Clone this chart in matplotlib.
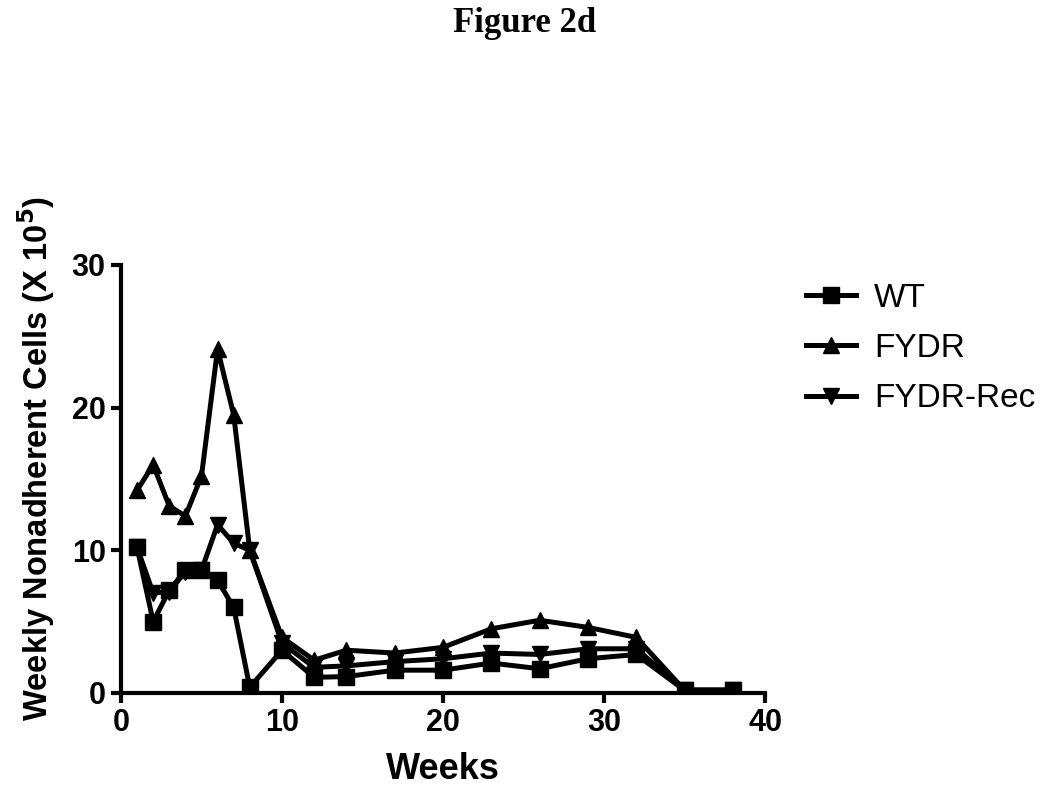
import matplotlib
matplotlib.use("Agg")
import matplotlib.pyplot as plt
from matplotlib.lines import Line2D

weeks = [1, 2, 3, 4, 5, 6, 7, 8, 10, 12, 14, 17, 20, 23, 26, 29, 32, 35, 38]
wt = [10.2, 5.0, 7.2, 8.6, 8.6, 7.9, 6.0, 0.4, 3.0, 1.1, 1.15, 1.6, 1.6, 2.1, 1.7, 2.4, 2.7, 0.2, 0.2]
fydr = [14.2, 16.0, 13.1, 12.4, 15.2, 24.1, 19.5, 10.0, 3.9, 2.3, 3.0, 2.8, 3.2, 4.5, 5.1, 4.6, 3.9, 0.2, 0.2]
fydr_rec = [10.2, 7.0, 7.1, 8.5, 8.6, 11.8, 10.5, 10.0, 3.5, 1.8, 1.9, 2.2, 2.4, 2.8, 2.7, 3.1, 3.1, 0.2, 0.2]

series_labels = ["WT", "FYDR", "FYDR-Rec"]
x_ticks = [0, 10, 20, 30, 40]
y_ticks = [0, 10, 20, 30]

sans = ['Liberation Sans', 'DejaVu Sans']

fig = plt.figure(figsize=(10.5, 8), dpi=100)
ax = fig.add_axes([0.1152, 0.13375, 0.6134, 0.535])

lw = 3.6
ax.plot(weeks, fydr, color='black', lw=lw, marker='^', ms=12, zorder=3)
ax.plot(weeks, fydr_rec, color='black', lw=lw, marker='v', ms=12, zorder=4)
ax.plot(weeks, wt, color='black', lw=lw, marker='s', ms=12, zorder=5)

ax.set_xlim(0, 40)
ax.set_ylim(0, 30)
ax.set_xticks(x_ticks)
ax.set_yticks(y_ticks)
for s in ['top', 'right']:
    ax.spines[s].set_visible(False)
for s in ['left', 'bottom']:
    ax.spines[s].set_linewidth(3)
ax.tick_params(width=3, length=7, direction='out', pad=4)
for lab in ax.get_xticklabels() + ax.get_yticklabels():
    lab.set_family(sans)
    lab.set_fontweight('bold')
    lab.set_fontsize(22)

ax.set_xlabel("Weeks", family=sans, fontweight='bold', fontsize=26, labelpad=10)
ax.set_ylabel("Weekly Nonadherent Cells (X 10$^{\\mathbf{5}}$)", family=sans,
              fontweight='bold', fontsize=23.5, labelpad=7)
ax.yaxis.set_label_coords(-0.1, 0.547)

handles = [Line2D([], [], color='black', lw=lw, marker=m, ms=12) for m in ['s', '^', 'v']]
leg = fig.legend(handles, series_labels, loc='upper left', bbox_to_anchor=(0.739, 0.684),
                 frameon=False, prop={'family': sans, 'size': 24},
                 handlelength=1.5, handletextpad=0.55, labelspacing=0.58)

fig.text(0.5, 0.97, "Figure 2d", ha='center', va='center', family='Liberation Serif',
         fontweight='bold', fontsize=25)

fig.savefig("out.png", dpi=100)
